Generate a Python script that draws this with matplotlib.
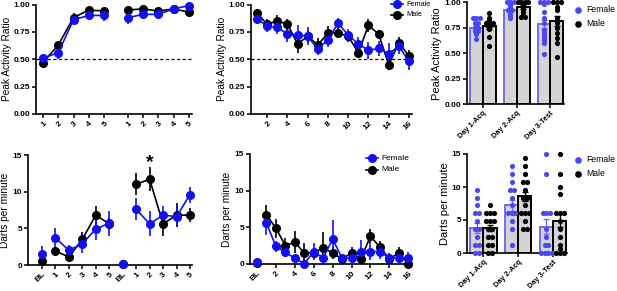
import numpy as np
import matplotlib
matplotlib.use("Agg")
import matplotlib.pyplot as plt
from matplotlib.lines import Line2D

plt.rcParams['font.family'] = ['Liberation Sans', 'DejaVu Sans']

BLUE = '#1010f0'
DOT_BLUE = '#4848f8'
EDGE_BLUE = '#6e6ee8'
GRAY = '#d4d4d4'

# ---- panel 1: peak activity ratio, two acquisition blocks
p1_labels = ['1', '2', '3', '4', '5', '1', '2', '3', '4', '5']
p1_male = [0.47, 0.63, 0.88, 0.95, 0.94, 0.95, 0.96, 0.94, 0.96, 0.93]
p1_male_err = [0.03, 0.04, 0.04, 0.02, 0.02, 0.02, 0.02, 0.02, 0.02, 0.04]
p1_female = [0.51, 0.56, 0.86, 0.90, 0.90, 0.88, 0.91, 0.91, 0.96, 0.99]
p1_female_err = [0.02, 0.06, 0.04, 0.03, 0.05, 0.06, 0.04, 0.03, 0.02, 0.02]

# ---- panel 2: peak activity ratio across 16 trials
p2_trials = list(range(1, 17))
p2_male = [0.92, 0.82, 0.85, 0.82, 0.64, 0.71, 0.63, 0.74, 0.74, 0.71,
           0.56, 0.81, 0.73, 0.45, 0.65, 0.53]
p2_male_err = [0.03, 0.05, 0.05, 0.05, 0.08, 0.06, 0.06, 0.06, 0.05, 0.05,
               0.04, 0.06, 0.04, 0.05, 0.05, 0.05]
p2_female = [0.87, 0.80, 0.79, 0.73, 0.72, 0.71, 0.59, 0.68, 0.83, 0.72,
             0.64, 0.58, 0.60, 0.55, 0.62, 0.48]
p2_female_err = [0.03, 0.05, 0.06, 0.07, 0.09, 0.08, 0.05, 0.07, 0.05, 0.06,
                 0.06, 0.08, 0.07, 0.10, 0.07, 0.08]

# ---- panel 3: peak activity ratio per day (bars + individual animals)
days = ['Day 1-Acq', 'Day 2-Acq', 'Day 3-Test']
p3_female_mean = [0.75, 0.92, 0.79]
p3_female_sem = [0.02, 0.02, 0.04]
p3_male_mean = [0.77, 0.95, 0.82]
p3_male_sem = [0.03, 0.02, 0.05]
p3_female_pts = [
    [0.85, 0.85, 0.85, 0.80, 0.80, 0.78, 0.75, 0.75, 0.73, 0.72, 0.72, 0.70, 0.69, 0.64],
    [1.0, 1.0, 1.0, 0.98, 0.97, 0.95, 0.93, 0.92, 0.92, 0.90, 0.88, 0.86, 0.85],
    [1.0, 1.0, 1.0, 0.98, 0.90, 0.85, 0.80, 0.73, 0.70, 0.68, 0.65, 0.63, 0.60, 0.49],
]
p3_male_pts = [
    [0.89, 0.85, 0.83, 0.80, 0.80, 0.80, 0.78, 0.78, 0.76, 0.74, 0.66, 0.57],
    [1.0, 1.0, 1.0, 1.0, 0.98, 0.97, 0.95, 0.93, 0.90, 0.88, 0.86, 0.86],
    [1.0, 1.0, 1.0, 0.95, 0.92, 0.85, 0.82, 0.80, 0.75, 0.70, 0.65, 0.60, 0.46],
]

# ---- panel 4: darts per minute, two blocks with baselines
p4_labels = ['BL', '1', '2', '3', '4', '5', 'BL', '1', '2', '3', '4', '5']
p4_male = [0.6, 1.9, 1.1, 3.5, 6.8, 5.6, 0.1, 11.0, 11.7, 5.6, 6.8, 6.8]
p4_male_err = [0.5, 0.6, 0.4, 1.0, 1.3, 0.8, 0.1, 1.5, 1.6, 1.6, 1.6, 1.0]
p4_female = [1.45, 3.7, 2.0, 2.9, 4.9, 5.7, 0.1, 7.6, 5.6, 6.8, 6.6, 9.6]
p4_female_err = [1.1, 1.4, 0.7, 1.3, 1.5, 1.7, 0.1, 1.5, 1.7, 1.3, 1.4, 1.1]

# ---- panel 5: darts per minute across baseline + 16 trials
p5_male_bl = 0.2
p5_female_bl = 0.27
p5_male = [6.7, 4.9, 2.5, 3.0, 1.5, 1.5, 2.2, 1.5, 0.7, 1.5, 0.7, 3.8, 2.3, 0.7, 1.5, 0.0]
p5_male_err = [1.4, 1.3, 1.0, 1.5, 1.4, 0.6, 2.2, 0.8, 0.4, 0.8, 0.5, 1.0, 0.9, 0.4, 0.8, 0.5]
p5_female = [5.6, 2.4, 1.6, 0.8, 0.05, 1.7, 0.8, 3.4, 0.8, 0.8, 1.7, 1.7, 1.7, 0.8, 0.8, 0.8]
p5_female_err = [1.6, 0.8, 0.7, 0.6, 0.2, 1.1, 0.9, 2.6, 0.5, 0.8, 1.6, 1.2, 1.0, 0.7, 0.7, 0.8]

# ---- panel 6: darts per minute per day
p6_female_mean = [3.8, 7.2, 4.0]
p6_female_sem = [0.7, 0.8, 1.1]
p6_male_mean = [3.8, 8.6, 4.9]
p6_male_sem = [0.5, 0.7, 1.0]
p6_female_pts = [
    [9.6, 8.4, 7.2, 6.0, 6.0, 4.8, 3.6, 3.6, 2.4, 1.2, 1.2, 0.0, 0.0],
    [13.2, 12.0, 10.8, 9.6, 9.6, 8.4, 7.2, 6.0, 6.0, 6.0, 4.8, 3.6, 1.2],
    [15.0, 12.0, 6.0, 6.0, 6.0, 3.6, 2.4, 1.2, 1.2, 0.0, 0.0, 0.0, 0.0],
]
p6_male_pts = [
    [7.2, 6.0, 6.0, 6.0, 4.8, 4.8, 4.8, 3.6, 3.6, 2.4, 2.4, 1.2, 1.2, 0.0, 0.0],
    [14.4, 13.2, 12.0, 10.8, 10.8, 9.6, 8.4, 8.4, 7.2, 6.0, 6.0, 6.0, 4.8, 3.6, 3.6],
    [15.0, 12.0, 10.0, 9.0, 6.0, 6.0, 6.0, 4.8, 3.6, 2.4, 1.2, 0.6, 0.0, 0.0, 0.0],
]

W, H = 617, 291
fig = plt.figure(figsize=(W / 100, H / 100), dpi=100)


def axes_px(l, t, r, b):
    return fig.add_axes([l / W, 1 - b / H, (r - l) / W, (b - t) / H])


def prism(ax, ylim, yticks, yfmt):
    for s in ['top', 'right']:
        ax.spines[s].set_visible(False)
    for s in ['left', 'bottom']:
        ax.spines[s].set_linewidth(1.2)
    ax.set_ylim(*ylim)
    ax.set_yticks(yticks)
    ax.set_yticklabels([yfmt.format(v) for v in yticks], fontsize=6, fontweight='bold')
    ax.tick_params(width=1.1, length=3, direction='out', pad=1.2)


def series(ax, x, y, err, color, connect=True):
    ax.errorbar(x, y, yerr=err, fmt='o' if not connect else 'o-', color=color,
                ms=5.5, lw=1.2, elinewidth=1.2, capsize=0, clip_on=False, zorder=3)


def xlabels(ax, pos, labels, fs=6):
    ax.set_xticks(pos)
    ax.set_xticklabels(labels, rotation=45, ha='right', rotation_mode='anchor',
                       fontsize=fs, fontweight='bold')


def swarm(values, center, width):
    vals = np.array(values, dtype=float)
    xs = np.zeros(len(vals))
    order = np.argsort(-vals)
    rows = []
    for i in order:
        if rows and abs(vals[rows[-1][0]] - vals[i]) < 1e-6:
            rows[-1].append(i)
        else:
            rows.append([i])
    for row in rows:
        n = len(row)
        step = min(0.11, width / max(n - 1, 1))
        for k, i in enumerate(row):
            xs[i] = center + (k - (n - 1) / 2) * step
    return xs, vals


def bar_panel(ax, fmean, fsem, mmean, msem, fpts, mpts, ylim, yticks, yfmt, ylabel):
    x = np.arange(len(days))
    bw = 0.38
    ax.bar(x - bw / 2, fmean, bw, color=GRAY, edgecolor=EDGE_BLUE, lw=1.4, zorder=1)
    ax.bar(x + bw / 2, mmean, bw, color=GRAY, edgecolor='black', lw=1.4, zorder=1)
    ax.errorbar(x - bw / 2, fmean, yerr=fsem, fmt='none', ecolor=EDGE_BLUE,
                elinewidth=1, capsize=2.5, zorder=2)
    ax.errorbar(x + bw / 2, mmean, yerr=msem, fmt='none', ecolor='black',
                elinewidth=1, capsize=2.5, zorder=2)
    for i in range(len(days)):
        fx, fy = swarm(fpts[i], x[i] - bw / 2, 0.3)
        mx, my = swarm(mpts[i], x[i] + bw / 2, 0.3)
        ax.scatter(fx, fy, s=14, color=DOT_BLUE, zorder=4, clip_on=False, lw=0)
        ax.scatter(mx, my, s=14, color='black', zorder=4, clip_on=False, lw=0)
    prism(ax, ylim, yticks, yfmt)
    ax.set_xlim(-0.47, 2.4)
    xlabels(ax, x, days, fs=5.3)
    ax.set_ylabel(ylabel, fontsize=8, labelpad=1.5)


def dot_legend(xp, yp):
    for lab, c, dy in [('Female', DOT_BLUE, 0), ('Male', 'black', 13.5)]:
        fig.add_artist(Line2D([xp / W], [1 - (yp + dy) / H], marker='o', ms=3.8,
                              color=c, lw=0))
        fig.text((xp + 8) / W, 1 - (yp + dy) / H, lab, fontsize=6.2, va='center')


def line_legend(xp, yp, dy, fs):
    for lab, c, d in [('Female', BLUE, 0), ('Male', 'black', dy)]:
        y = 1 - (yp + d) / H
        fig.add_artist(Line2D([(xp - 6) / W, (xp + 6) / W], [y, y], color=c, lw=1.2))
        fig.add_artist(Line2D([xp / W], [y], marker='o', ms=5.5, color=c, lw=0))
        fig.text((xp + 9) / W, y, lab, fontsize=fs, va='center')


# panel 1
ax1 = axes_px(36, 4.5, 192, 114)
x1 = np.r_[np.arange(5), np.arange(5) + 5.57]
ax1.axhline(0.5, color='black', ls=(0, (2.5, 2)), lw=0.9, zorder=1)
for blk in [slice(0, 5), slice(5, 10)]:
    series(ax1, x1[blk], p1_male[blk], p1_male_err[blk], 'black')
    series(ax1, x1[blk], p1_female[blk], p1_female_err[blk], BLUE)
prism(ax1, (0, 1), [0, 0.25, 0.5, 0.75, 1.0], '{:.2f}')
ax1.set_xlim(-0.46, 9.77)
xlabels(ax1, x1, p1_labels)
ax1.set_ylabel('Peak Activity Ratio', fontsize=7.3, labelpad=1)

# panel 2
ax2 = axes_px(251, 4.5, 412, 114)
ax2.axhline(0.5, color='black', ls=(0, (2.5, 2)), lw=0.9, zorder=1)
series(ax2, p2_trials, p2_male, p2_male_err, 'black')
series(ax2, p2_trials, p2_female, p2_female_err, BLUE)
prism(ax2, (0, 1), [0, 0.25, 0.5, 0.75, 1.0], '{:.2f}')
ax2.set_xlim(0.4, 16.3)
xlabels(ax2, p2_trials[1::2], [str(t) for t in p2_trials[1::2]])
ax2.set_ylabel('Peak Activity Ratio', fontsize=7.3, labelpad=1)
line_legend(397, 4, 11, 5.3)

# panel 3
ax3 = axes_px(467, 2.3, 564, 104)
bar_panel(ax3, p3_female_mean, p3_female_sem, p3_male_mean, p3_male_sem,
          p3_female_pts, p3_male_pts, (0, 1), [0, 0.25, 0.5, 0.75, 1.0], '{:.2f}',
          'Peak Activity Ratio')
dot_legend(578, 10)

# panel 4
ax4 = axes_px(28, 155, 192, 265)
x4 = np.arange(12)
for blk, bl in [(slice(1, 6), 0), (slice(7, 12), 6)]:
    series(ax4, [x4[bl]], [p4_male[bl]], [p4_male_err[bl]], 'black', connect=False)
    series(ax4, x4[blk], p4_male[blk], p4_male_err[blk], 'black')
for blk, bl in [(slice(1, 6), 0), (slice(7, 12), 6)]:
    series(ax4, [x4[bl]], [p4_female[bl]], [p4_female_err[bl]], BLUE, connect=False)
    series(ax4, x4[blk], p4_female[blk], p4_female_err[blk], BLUE)
prism(ax4, (0, 15), [0, 5, 10, 15], '{:d}')
ax4.set_xlim(-1.04, 11.15)
xlabels(ax4, x4, p4_labels)
ax4.set_ylabel('Darts per minute', fontsize=7.3, labelpad=2)
ax4.text(8, 13.9, '*', fontsize=14, fontweight='bold', ha='center', va='center')

# panel 5
ax5 = axes_px(250, 154, 412, 264)
t5 = np.arange(1, 17)
series(ax5, [0], [p5_male_bl], [0.1], 'black', connect=False)
series(ax5, t5, p5_male, p5_male_err, 'black')
series(ax5, [0], [p5_female_bl], [0.1], BLUE, connect=False)
series(ax5, t5, p5_female, p5_female_err, BLUE)
prism(ax5, (0, 15), [0, 5, 10, 15], '{:d}')
ax5.set_xlim(-0.74, 16.4)
xlabels(ax5, [0] + list(t5[1::2]), ['BL'] + [str(t) for t in t5[1::2]])
ax5.set_ylabel('Darts per minute', fontsize=7.3, labelpad=2)
line_legend(372, 158, 11.5, 6)

# panel 6
ax6 = axes_px(467, 154, 567, 253)
bar_panel(ax6, p6_female_mean, p6_female_sem, p6_male_mean, p6_male_sem,
          p6_female_pts, p6_male_pts, (0, 15), [0, 5, 10, 15], '{:d}',
          'Darts per minute')
dot_legend(578, 160)

fig.savefig('out.png', dpi=100)
